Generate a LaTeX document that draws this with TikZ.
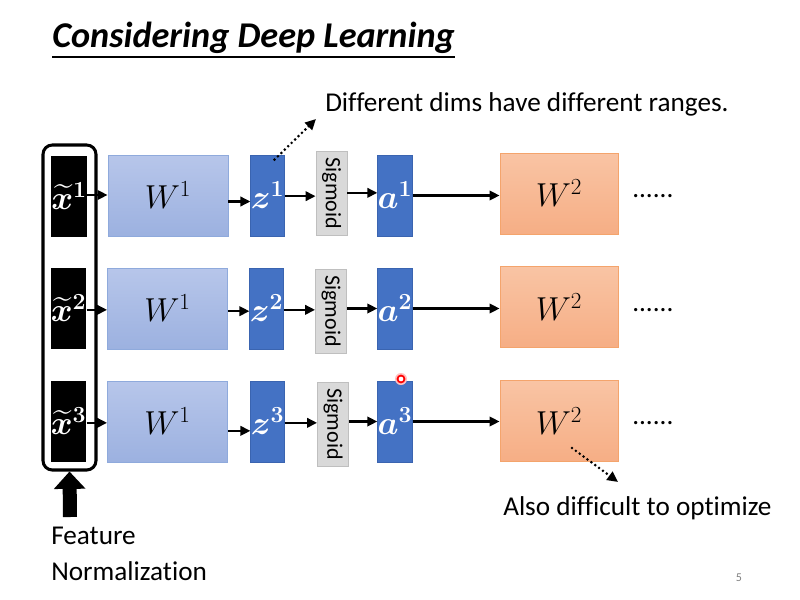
\documentclass[tikz,border=0pt]{standalone}
\usepackage{fontspec}
\setmainfont{Carlito}[Ligatures=NoCommon]
\usepackage{amsmath,bm,graphicx}
\usetikzlibrary{arrows.meta,calc}
\definecolor{wonetop}{HTML}{B7C6EA}
\definecolor{wonebot}{HTML}{9CB1E0}
\definecolor{woneline}{HTML}{8FAADC}
\definecolor{wtwotop}{HTML}{F9C4A4}
\definecolor{wtwobot}{HTML}{F6AE85}
\definecolor{wtwoline}{HTML}{F4A46C}
\definecolor{vblue}{HTML}{4472C4}
\definecolor{vblueline}{HTML}{3A64B0}
\definecolor{sigfill}{HTML}{D9D9D9}
\definecolor{sigline}{HTML}{BFBFBF}
\tikzset{
  xbox/.style={fill=black, minimum width=24pt, minimum height=60.75pt, inner sep=0pt, text=white, font=\fontsize{23}{26}\selectfont},
  wone/.style={draw=woneline, line width=0.6pt, top color=wonetop, bottom color=wonebot, minimum width=90pt, minimum height=60.75pt, inner sep=0pt, font=\fontsize{23}{26}\selectfont},
  wtwo/.style={draw=wtwoline, line width=0.6pt, top color=wtwotop, bottom color=wtwobot, minimum width=88.5pt, minimum height=60.75pt, inner sep=0pt, font=\fontsize{23}{26}\selectfont},
  vec/.style={draw=vblueline, line width=0.5pt, fill=vblue, minimum width=24.75pt, minimum height=60.75pt, inner sep=0pt, text=white, font=\fontsize{23}{26}\selectfont},
  sigbox/.style={draw=sigline, line width=0.6pt, fill=sigfill, minimum width=23.25pt, minimum height=63pt, inner sep=0pt, font=\fontsize{16.5}{18}\selectfont},
  arr/.style={line width=1.9pt, -{Triangle[length=7.5pt,width=7pt]}},
  dotarr/.style={line width=2.2pt, line cap=round, dash pattern=on 0pt off 3.6pt, -{Triangle[length=8pt,width=7.5pt]}},
  lbl/.style={anchor=base west, inner sep=0pt, font=\fontsize{20.4}{24}\selectfont},
}
\begin{document}
\begin{tikzpicture}[x=0.75pt,y=-0.75pt]
\useasboundingbox[fill=white] (0,0) rectangle (800,600);

% title
\node[anchor=base west, inner sep=0pt, font=\fontsize{27.2}{32}\selectfont\bfseries\itshape] (title) at (52,47) {Considering Deep Learning};
\draw[line width=1.1pt] ([yshift=-7.5pt]title.base west) -- ([yshift=-7.5pt]title.base east);

% group frame
\node[draw, line width=2.3pt, rounded corners=7pt, minimum width=39.75pt, minimum height=243.75pt, inner sep=0pt] (grp) at (69.5,307.5) {};

% row 1
\node[xbox] (x1) at (69,196) {$\widetilde{\bm{x}}^{\bm{1}}$};
\node[wone] (wa1) at (168,195.5) {$W^1$};
\node[vec] (z1) at (267.5,195.5) {$\bm{z}^{\bm{1}}$};
\node[sigbox] (s1) at (331.5,193.5) {\rotatebox{-90}{Sigmoid}};
\node[vec] (a1) at (395,195.5) {$\bm{a}^{\bm{1}}$};
\node[wtwo] (wb1) at (559,193.5) {$W^2$};
\node[lbl] (d1) at (632,197) {......};

% row 2
\node[xbox] (x2) at (68.5,308.5) {$\widetilde{\bm{x}}^{\bm{2}}$};
\node[wone] (wa2) at (167.5,308.5) {$W^1$};
\node[vec] (z2) at (266.5,308.5) {$\bm{z}^{\bm{2}}$};
\node[sigbox] (s2) at (331,311) {\rotatebox{-90}{Sigmoid}};
\node[vec] (a2) at (395,308.5) {$\bm{a}^{\bm{2}}$};
\node[wtwo] (wb2) at (559,307) {$W^2$};
\node[lbl] (d2) at (632,311) {......};

% row 3
\node[xbox] (x3) at (68.5,421.5) {$\widetilde{\bm{x}}^{\bm{3}}$};
\node[wone] (wa3) at (167.5,421.5) {$W^1$};
\node[vec] (z3) at (267.5,421.5) {$\bm{z}^{\bm{3}}$};
\node[sigbox] (s3) at (333,424) {\rotatebox{-90}{Sigmoid}};
\node[vec] (a3) at (395,421.5) {$\bm{a}^{\bm{3}}$};
\node[wtwo] (wb3) at (559,421) {$W^2$};
\node[lbl] (d3) at (632,424) {......};

% arrows row 1
\draw[arr] ([yshift=0.75pt]x1.east) -- ([yshift=0.75pt]x1.east -| wa1.west);
\draw[arr] ([yshift=-4.5pt]wa1.east) -- ([yshift=-4.5pt]wa1.east -| z1.west);
\draw[arr] ([yshift=-0.5pt]z1.east) -- ([yshift=-0.5pt]z1.east -| s1.west);
\draw[arr] ([yshift=2pt]s1.east |- a1.west) -- ([yshift=2pt]a1.west);
\draw[arr] (a1.east) -- (a1.east -| wb1.west);

% arrows row 2
\draw[arr] ([yshift=-1pt]x2.east) -- ([yshift=-1pt]x2.east -| wa2.west);
\draw[arr] ([yshift=-2pt]wa2.east) -- ([yshift=-2pt]wa2.east -| z2.west);
\draw[arr] ([yshift=-1pt]z2.east) -- ([yshift=-1pt]z2.east -| s2.west);
\draw[arr] (s2.east |- a2.west) -- (a2.west);
\draw[arr] (a2.east) -- (a2.east -| wb2.west);

% arrows row 3
\draw[arr] ([yshift=-1pt]x3.east) -- ([yshift=-1pt]x3.east -| wa3.west);
\draw[arr] ([yshift=-7pt]wa3.east) -- ([yshift=-7pt]wa3.east -| z3.west);
\draw[arr] ([yshift=-1pt]z3.east) -- ([yshift=-1pt]z3.east -| s3.west);
\draw[arr] (s3.east |- a3.west) -- (a3.west);
\draw[arr] (a3.east) -- (a3.east -| wb3.west);

% annotations
\node[lbl] (note1) at (325,111) {Different dims have different ranges.};
\coordinate (tip1) at (316,119);
\draw[dotarr] ($(z1.north)+(7,5)$) -- (tip1);

\node[lbl] (note2) at (503,515) {Also difficult to optimize};
\coordinate (tip2) at (618,482);
\draw[dotarr] ($(wb3.center)+(13,27)$) -- (tip2);

% feature normalization arrow
\coordinate (fbase) at (70,517);
\draw[line width=10.5pt, -{Triangle[length=13pt,width=23pt]}] (fbase) -- (grp.south);
\node[lbl] (fn1) at (51,544) {Feature};
\node[lbl] (fn2) at (51,580) {Normalization};

% laser pointer dot
\fill[red!25] (401,379) circle (4.5pt);
\draw[red, line width=1.3pt, fill=white] (401,379) circle (2.6pt);

% page number
\node[text=gray, inner sep=0pt, font=\fontsize{9}{10}\selectfont] (pg) at (739,578) {5};
\end{tikzpicture}
\end{document}
